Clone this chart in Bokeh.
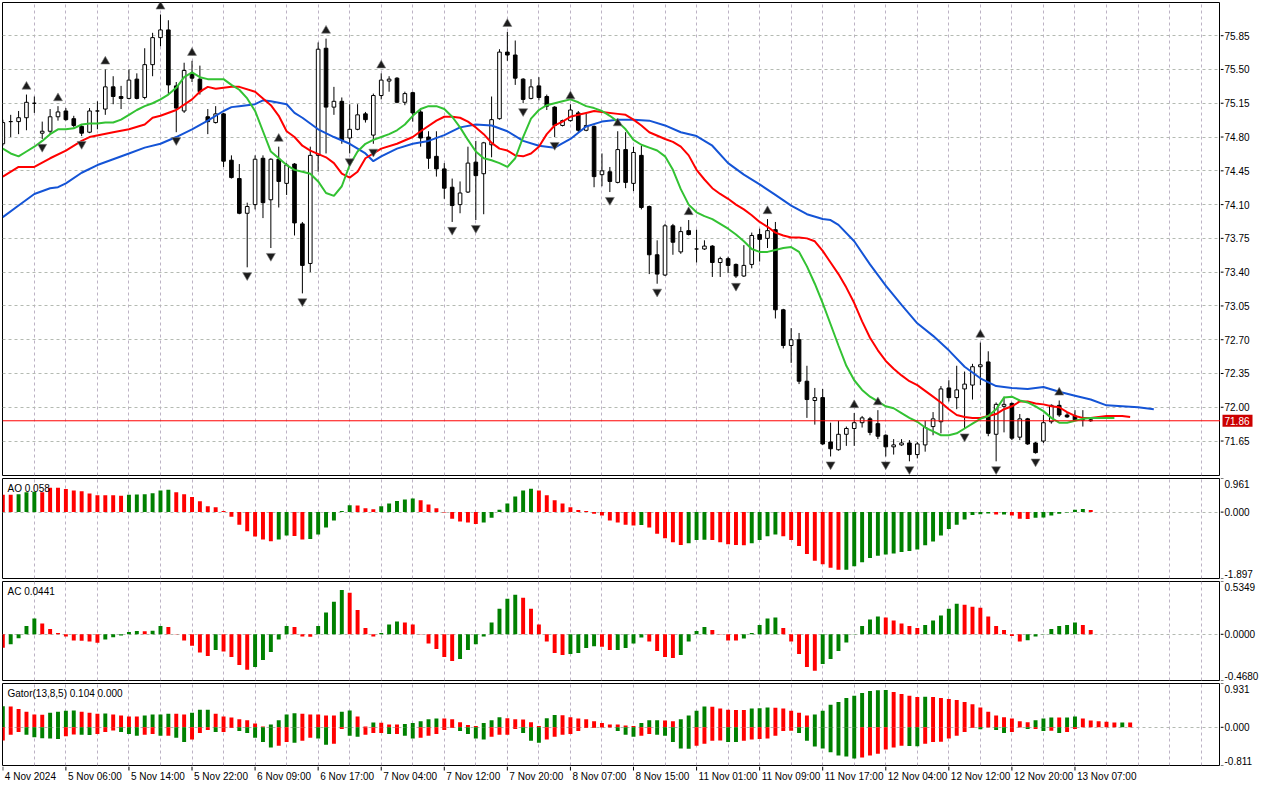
from bokeh.plotting import figure
from bokeh.models import Range1d, FixedTicker, Label, Span, ColumnDataSource
from bokeh.layouts import column, row
from bokeh.embed import file_html
from bokeh.resources import INLINE
from bokeh.core.properties import value

# ---------------- data ----------------
OPEN = [74.73,74.96,74.96,75.00,75.15,74.84,74.86,75.01,75.07,74.99,
74.91,74.85,75.07,75.09,75.32,75.22,75.20,75.40,75.21,75.55,
75.83,75.91,75.33,75.07,75.46,75.40,75.01,74.95,75.04,74.56,
74.37,74.01,74.10,74.58,74.15,74.57,74.32,74.52,73.90,73.49,
74.61,75.72,75.11,75.17,74.79,74.88,75.04,74.82,75.23,75.38,
75.41,75.16,75.26,75.06,74.80,74.60,74.47,74.28,74.10,74.23,
74.54,74.42,74.72,74.99,75.68,75.65,75.40,75.20,75.33,75.22,
75.11,74.92,74.97,75.05,74.87,74.91,74.41,74.44,74.33,74.67,
74.32,74.61,74.08,73.58,73.37,73.88,73.61,73.83,73.64,73.64,
73.67,73.50,73.54,73.48,73.36,73.48,73.79,73.75,73.84,73.01,
72.64,72.70,72.27,72.07,72.10,71.64,71.56,71.72,71.78,71.84,
71.88,71.83,71.71,71.59,71.61,71.63,71.51,71.61,71.80,71.85,
72.20,72.10,72.19,72.23,72.42,72.47,71.72,72.01,72.04,71.69,
71.88,71.63,71.65,71.85,72.02,71.92,71.91,71.87,71.87]
HIGH = [74.98,75.03,75.07,75.24,75.22,74.96,75.09,75.12,75.10,75.02,
74.93,75.10,75.17,75.50,75.43,75.33,75.50,75.46,75.72,75.88,
76.07,76.01,75.37,75.57,75.59,75.54,75.09,75.12,75.05,74.61,
74.52,74.12,74.61,74.61,74.58,74.70,74.53,74.53,73.92,74.70,
75.78,75.82,75.32,75.21,75.14,75.14,75.06,75.25,75.46,75.43,
75.42,75.27,75.27,75.08,74.86,74.86,74.53,74.37,74.34,74.70,
74.76,74.75,75.22,75.71,75.89,75.80,75.41,75.40,75.42,75.24,
75.12,74.98,75.14,75.07,75.04,74.92,74.63,74.49,74.86,74.85,
74.70,74.71,74.09,73.73,73.90,73.90,73.87,73.94,73.84,73.73,
73.68,73.56,73.56,73.49,73.68,73.81,73.85,73.95,73.92,73.02,
72.82,72.77,72.43,72.20,72.19,71.84,71.86,71.80,71.94,71.91,
71.90,71.97,71.72,71.67,71.67,71.66,71.64,71.86,71.95,72.22,
72.28,72.43,72.37,72.45,72.67,72.58,72.05,72.11,72.05,71.93,
71.89,71.64,71.92,72.03,72.07,71.95,71.97,71.97,71.88]
LOW = [74.71,74.80,74.83,74.87,75.05,74.78,74.83,74.97,74.97,74.90,
74.81,74.84,74.88,75.03,75.14,75.09,75.19,75.19,75.19,75.43,
75.74,75.24,74.85,75.05,75.37,75.24,74.83,74.94,74.49,74.37,
74.00,73.45,74.05,73.96,73.65,74.07,74.20,73.78,73.18,73.40,
74.44,74.63,75.03,74.73,74.63,74.87,74.95,74.73,75.19,75.27,
75.15,75.13,74.96,74.70,74.47,74.39,74.16,73.92,74.01,74.22,
73.94,74.00,74.59,74.98,75.59,75.34,75.15,75.19,75.18,75.08,
74.80,74.91,74.96,74.85,74.86,74.28,74.29,74.23,74.32,74.27,
74.24,74.05,73.38,73.28,73.36,73.58,73.59,73.78,73.50,73.63,
73.35,73.35,73.39,73.34,73.35,73.44,73.51,73.65,72.92,72.61,
72.46,72.24,71.89,71.82,71.61,71.49,71.55,71.60,71.60,71.79,
71.71,71.67,71.49,71.51,71.60,71.44,71.47,71.54,71.71,71.73,
72.06,71.98,71.78,72.08,72.23,71.70,71.44,71.74,71.66,71.66,
71.61,71.52,71.63,71.83,71.90,71.89,71.86,71.80,71.85]
CLOSE = [74.95,74.96,75.00,75.16,75.15,74.86,75.01,75.06,74.98,74.92,
74.84,75.07,75.07,75.32,75.22,75.20,75.39,75.20,75.55,75.83,
75.91,75.34,75.10,75.49,75.41,75.27,74.96,75.04,74.55,74.38,
74.01,74.08,74.57,74.12,74.57,74.34,74.51,73.91,73.47,74.61,
75.71,75.11,75.17,74.77,74.88,75.03,74.98,75.23,75.39,75.40,
75.16,75.25,75.05,74.79,74.58,74.47,74.27,74.09,74.22,74.53,
74.40,74.74,74.98,75.68,75.65,75.41,75.19,75.32,75.21,75.12,
74.92,74.97,75.08,74.87,74.92,74.39,74.45,74.34,74.67,74.33,
74.64,74.07,73.58,73.38,73.88,73.71,73.82,73.79,73.64,73.67,
73.50,73.54,73.47,73.36,73.47,73.78,73.74,73.83,73.01,72.64,
72.70,72.27,72.08,72.10,71.62,71.57,71.72,71.78,71.84,71.89,
71.74,71.70,71.59,71.61,71.63,71.51,71.62,71.79,71.88,72.19,
72.10,72.18,72.24,72.42,72.44,71.73,72.03,72.03,71.68,71.88,
71.62,71.53,71.84,72.02,71.92,71.90,71.87,71.87,71.86]

FRACTAL_UP = [3,7,13,20,24,35,41,48,64,72,78,87,97,108,111,124,134]
FRACTAL_DOWN = [5,10,22,31,34,38,44,47,57,60,66,70,77,83,93,105,112,115,122,126,131]

JAW_K = [0,2,4,6,7,8,10,12,14,16,18,20,22,24,26,28,29,30,32,33,34,36,37,38,40,42,44,46,47,48,
50,52,54,56,58,60,62,64,66,68,70,72,74,76,78,80,82,84,86,88,90,92,94,96,98,100,
102,104,105,106,108,110,112,114,116,118,120,122,124,126,128,130,132,134,136,138,140,142,144,146]
JAW_V = [73.97,74.09,74.21,74.27,74.28,74.32,74.43,74.51,74.57,74.63,74.69,74.73,74.80,74.88,74.97,75.07,
75.11,75.12,75.14,75.18,75.17,75.14,75.05,75.00,74.88,74.80,74.73,74.63,74.55,74.60,
74.68,74.73,74.76,74.82,74.90,74.93,74.92,74.86,74.76,74.71,74.69,74.78,74.91,74.96,74.98,74.98,
74.97,74.92,74.85,74.81,74.71,74.53,74.41,74.31,74.20,74.09,
74.00,73.95,73.94,73.89,73.72,73.48,73.26,73.06,72.87,72.74,72.59,72.42,72.30,72.22,72.20,72.19,
72.21,72.16,72.12,72.08,72.02,72.01,72.00,71.98]

TEETH_K = [0,2,4,6,8,10,11,14,16,18,19,20,22,24,25,26,27,29,30,32,33,34,35,36,37,38,39,41,42,43,
44,45,46,48,50,52,53,55,56,57,58,59,60,61,62,63,64,65,66,67,68,69,70,71,72,73,74,75,76,78,
79,80,81,82,84,85,86,
87,88,89,90,91,92,93,94,95,96,97,98,99,100,101,102,103,104,105,106,107,108,109,110,111,112,
113,114,115,116,117,118,119,120,121,122,123,124,125,126,127,128,129,130,131,132,133,134,135,136,
137,138,139,140,141,142,143]
TEETH_V = [74.39,74.49,74.49,74.58,74.66,74.76,74.80,74.85,74.88,74.93,75.00,75.02,75.08,75.19,75.27,
75.32,75.30,75.32,75.32,75.27,75.20,75.13,75.02,74.86,74.80,74.71,74.66,74.59,74.53,74.42,
74.38,74.44,74.58,74.68,74.73,74.80,74.86,74.97,75.01,75.01,75.00,74.96,74.90,74.83,74.74,
74.68,74.66,74.61,74.60,74.63,74.70,74.83,74.92,74.96,75.01,75.03,75.05,75.07,75.06,75.04,
75.03,74.98,74.92,74.85,74.78,74.75,74.70,
74.61,74.46,74.36,74.27,74.21,74.16,74.10,74.05,73.99,73.92,73.87,73.81,73.78,73.76,73.76,
73.75,73.72,73.62,73.50,73.38,73.24,73.08,72.89,72.72,72.59,72.48,72.40,72.33,72.27,72.23,
72.17,72.11,72.05,71.98,71.92,71.90,71.89,71.89,71.91,71.93,71.98,72.01,72.06,72.06,72.04,
72.03,72.01,72.00,71.95,71.91,71.89,71.89,71.90,71.91,71.91,71.91,71.90]

LIPS_V = [74.68,74.63,74.60,74.65,74.70,74.76,74.83,74.88,74.88,74.89,
74.93,74.94,74.94,74.95,74.95,74.98,75.03,75.08,75.12,75.15,
75.19,75.24,75.31,75.42,75.47,75.42,75.40,75.40,75.40,75.34,
75.29,75.20,75.07,74.86,74.65,74.58,74.51,74.46,74.44,74.42,
74.34,74.22,74.19,74.29,74.51,74.65,74.73,74.77,74.80,74.83,
74.87,74.93,75.02,75.09,75.12,75.12,75.09,75.01,74.90,74.77,
74.65,74.58,74.56,74.53,74.49,74.58,74.80,74.99,75.08,75.13,
75.15,75.17,75.19,75.16,75.12,75.10,75.07,75.02,74.96,74.88,
74.77,74.72,74.69,74.66,74.60,74.46,74.26,74.10,74.02,73.98,
73.95,73.90,73.85,73.79,73.72,73.64,73.61,73.61,73.63,73.65,
73.66,73.61,73.46,73.28,73.08,72.86,72.64,72.43,72.28,72.18,
72.11,72.06,72.01,71.99,71.94,71.89,71.85,71.79,71.75,71.71,
71.71,71.73,71.78,71.83,71.88,71.91,71.98,72.10,72.11,72.07,
72.05,72.01,71.96,71.89,71.84,71.84,71.86,71.88,71.89,71.89,
71.89,71.89]

AO = [0.50,0.50,0.51,0.57,0.58,0.57,0.70,0.70,0.66,0.62,
0.60,0.53,0.48,0.48,0.48,0.47,0.50,0.505,0.51,0.54,
0.62,0.64,0.57,0.51,0.43,0.31,0.17,0.14,0.03,-0.13,
-0.36,-0.55,-0.70,-0.78,-0.83,-0.78,-0.67,-0.68,-0.78,-0.77,
-0.64,-0.44,-0.24,0.03,0.20,0.19,0.11,0.08,0.17,0.25,
0.32,0.36,0.39,0.34,0.22,0.11,-0.01,-0.19,-0.27,-0.30,
-0.34,-0.30,-0.16,0.065,0.25,0.45,0.62,0.67,0.62,0.48,
0.34,0.25,0.14,0.06,0.03,-0.05,-0.10,-0.24,-0.30,-0.36,
-0.38,-0.37,-0.44,-0.62,-0.75,-0.86,-0.94,-0.89,-0.80,-0.79,
-0.80,-0.86,-0.92,-0.94,-0.95,-0.89,-0.80,-0.69,-0.64,-0.69,
-0.80,-0.97,-1.20,-1.39,-1.49,-1.59,-1.65,-1.645,-1.55,-1.43,
-1.31,-1.25,-1.21,-1.18,-1.14,-1.11,-1.07,-0.95,-0.84,-0.67,
-0.48,-0.36,-0.21,-0.08,-0.06,-0.04,-0.07,-0.065,-0.10,-0.19,
-0.195,-0.16,-0.155,-0.10,-0.05,-0.01,0.065,0.09,0.058]
AO_COLOR = ("rrgggrrrrr" "rrrrrrgggg" "ggrrrrrrrr" "rrrrrggrrg" "gggggrrrgg"
            "gggrrrrrrr" "rgggggggrr" "rrrrrrrrrr" "rgrrrrrggg" "rrrrrggggr"
            "rrrrrrrggg" "gggggggggg" "ggggggrgrr" "rgggggggr")

AC = [-0.136,-0.10,-0.04,0.083,0.16,0.11,0.053,0.013,-0.023,-0.063,
-0.065,-0.073,-0.086,-0.053,-0.03,-0.013,0.023,0.033,0.032,0.035,
0.083,0.073,-0.002,-0.063,-0.116,-0.185,-0.22,-0.16,-0.175,-0.23,
-0.31,-0.36,-0.33,-0.26,-0.18,-0.053,0.083,0.073,-0.023,-0.024,
0.083,0.22,0.33,0.45,0.42,0.245,0.063,-0.023,0.013,0.10,
0.13,0.12,0.10,-0.003,-0.093,-0.15,-0.23,-0.27,-0.25,-0.16,
-0.10,-0.023,0.12,0.26,0.36,0.40,0.37,0.26,0.10,-0.073,
-0.19,-0.21,-0.20,-0.19,-0.14,-0.12,-0.125,-0.16,-0.158,-0.14,
-0.093,-0.033,-0.073,-0.17,-0.23,-0.24,-0.21,-0.073,0.033,0.073,
0.043,-0.001,-0.063,-0.064,-0.043,0.013,0.093,0.16,0.17,0.063,
-0.073,-0.20,-0.33,-0.37,-0.30,-0.25,-0.17,-0.083,0.003,0.083,
0.15,0.18,0.17,0.14,0.11,0.083,0.063,0.093,0.14,0.19,
0.26,0.31,0.30,0.28,0.27,0.18,0.083,0.043,-0.017,-0.073,
-0.06,-0.023,-0.003,0.053,0.083,0.093,0.12,0.093,0.044]
AC_COLOR = ("rggggrrrrr" "rrrgggggrg" "grrrrrrgrr" "rrgggggrrr" "ggggrrrrgg"
            "grrrrrrrgg" "ggggggrrrr" "rrggggrrgg" "ggrrrrgggg" "rrrrgggggr"
            "rrrrgggggg" "ggrrrrrggg" "ggrrrrrrrr" "gggggggrr")

GATOR_UP = [0.45,0.44,0.39,0.33,0.27,0.265,0.31,0.33,0.35,0.355,
0.33,0.31,0.29,0.295,0.27,0.25,0.23,0.228,0.25,0.27,
0.275,0.29,0.29,0.27,0.31,0.375,0.376,0.29,0.23,0.21,
0.17,0.15,0.08,0.02,0.06,0.15,0.27,0.30,0.29,0.27,
0.27,0.25,0.25,0.33,0.355,0.23,0.02,0.10,0.098,0.06,
0.058,0.07,0.09,0.13,0.17,0.19,0.185,0.17,0.11,0.05,
0.03,0.09,0.15,0.215,0.195,0.17,0.168,0.11,0.03,0.195,
0.26,0.255,0.215,0.19,0.17,0.13,0.09,0.06,0.058,0.04,
0.03,0.09,0.15,0.152,0.145,0.13,0.17,0.25,0.35,0.44,
0.435,0.40,0.375,0.37,0.368,0.40,0.405,0.42,0.415,0.40,
0.35,0.31,0.25,0.27,0.35,0.48,0.54,0.625,0.67,0.73,
0.77,0.79,0.795,0.75,0.71,0.67,0.645,0.65,0.645,0.625,
0.60,0.58,0.54,0.49,0.42,0.33,0.25,0.215,0.19,0.13,
0.11,0.15,0.19,0.21,0.208,0.21,0.23,0.19,0.145,0.13,
0.12,0.10,0.104,0.10]
GATOR_DOWN = [-0.28,-0.16,-0.10,-0.16,-0.21,-0.23,-0.235,-0.25,-0.19,-0.15,
-0.16,-0.165,-0.14,-0.10,-0.07,-0.10,-0.14,-0.18,-0.16,-0.14,
-0.18,-0.18,-0.22,-0.31,-0.26,-0.12,-0.055,-0.10,-0.098,-0.015,
-0.076,-0.12,-0.22,-0.31,-0.43,-0.39,-0.31,-0.33,-0.285,-0.22,
-0.24,-0.37,-0.35,-0.035,-0.18,-0.20,-0.16,-0.12,-0.12,-0.14,
-0.14,-0.18,-0.24,-0.22,-0.18,-0.14,-0.055,-0.015,-0.076,-0.14,
-0.24,-0.26,-0.20,-0.16,-0.158,-0.035,-0.12,-0.285,-0.33,-0.26,
-0.20,-0.16,-0.14,-0.076,-0.015,-0.014,-0.005,-0.004,-0.076,-0.16,
-0.20,-0.18,-0.14,-0.16,-0.18,-0.31,-0.45,-0.455,-0.39,-0.35,
-0.285,-0.28,-0.31,-0.312,-0.285,-0.26,-0.25,-0.24,-0.18,-0.076,
-0.075,-0.12,-0.285,-0.41,-0.45,-0.53,-0.60,-0.62,-0.66,-0.64,
-0.60,-0.56,-0.47,-0.43,-0.39,-0.395,-0.40,-0.35,-0.31,-0.305,
-0.24,-0.18,-0.10,-0.014,-0.04,-0.005,-0.055,-0.12,-0.10,-0.004,
-0.035,-0.034,-0.076,-0.075,-0.12,-0.10,-0.035]

PRICE_TICKS = [75.85,75.50,75.15,74.80,74.45,74.10,73.75,73.40,73.05,72.70,72.35,72.00,71.65]
PRICE_RANGE = (71.293, 76.194)
AO_RANGE = (-1.897, 0.961)
AC_RANGE = (-0.4680, 0.5349)
GATOR_RANGE = (-0.811, 0.931)
AO_LABELS = ("0.961", "0.000", "-1.897")
AC_LABELS = ("0.5349", "0.0000", "-0.4680")
GATOR_LABELS = ("0.931", "0.000", "-0.811")

X_LABEL_BARS = [0,8,16,24,32,40,48,56,64,72,80,88,96,104,112,120,128,136]
X_LABELS = ["4 Nov 2024","5 Nov 06:00","5 Nov 14:00","5 Nov 22:00","6 Nov 09:00","6 Nov 17:00",
            "7 Nov 04:00","7 Nov 12:00","7 Nov 20:00","8 Nov 07:00","8 Nov 15:00","11 Nov 01:00",
            "11 Nov 09:00","11 Nov 17:00","12 Nov 04:00","12 Nov 12:00","12 Nov 20:00","13 Nov 07:00"]

# ---------------- styling ----------------
W_TOTAL = 1264
AXW = 44
W = W_TOTAL - AXW
BL = 2
FONT = "Liberation Sans"
FS = "10px"
GREEN, RED = "#008000", "#ff0000"
GRID_V, GRID_H = "#bcb2c4", "#b4bab2"
JAW_C, TEETH_C, LIPS_C = "#1454d6", "#ff0000", "#33c233"
TOP_B, BOT_B = 2, 1

x_range = Range1d(-0.04, 154.46)
VGRID = list(range(4, 153, 4))


def plain(fig):
    fig.xgrid.visible = False
    fig.ygrid.visible = False
    fig.outline_line_color = None
    fig.background_fill_color = "white"
    fig.border_fill_color = "white"


def panel(height, yr, hgrid):
    p = figure(width=W, height=height, x_range=x_range, y_range=Range1d(*yr),
               output_backend="svg", toolbar_location=None,
               x_axis_location=None, y_axis_location=None,
               min_border_left=BL, min_border_right=0,
               min_border_top=TOP_B, min_border_bottom=BOT_B)
    p.outline_line_color = "black"
    p.outline_line_alpha = 1.0
    p.background_fill_color = "white"
    p.border_fill_color = "white"
    p.xgrid.ticker = FixedTicker(ticks=VGRID)
    p.xgrid.grid_line_color = GRID_V
    p.xgrid.grid_line_dash = "3 3"
    p.ygrid.ticker = FixedTicker(ticks=hgrid)
    p.ygrid.grid_line_color = GRID_H
    p.ygrid.grid_line_dash = "3 3"
    return p


def price_scale(p, ticks, labels, baselines):
    """Right-hand scale drawn in its own narrow figure sharing the panel's y range."""
    a = figure(width=AXW, height=p.height, x_range=Range1d(0, AXW), y_range=p.y_range,
               output_backend="svg", toolbar_location=None,
               x_axis_location=None, y_axis_location=None,
               min_border_left=0, min_border_right=0,
               min_border_top=TOP_B, min_border_bottom=BOT_B)
    plain(a)
    a.segment(x0=[0] * len(ticks), y0=ticks, x1=[3] * len(ticks), y1=ticks,
              line_color="black", line_width=1)
    for t, lab, bl in zip(ticks, labels, baselines):
        a.text(x=[4], y=[t], text=[lab], text_baseline=bl, text_align="left",
               text_font=value(FONT), text_font_size=value(FS), text_color="black",
               y_offset=(1 if bl == "top" else (-1 if bl == "bottom" else 0)))
    return a


def title(p, yr, text):
    p.add_layout(Label(x=x_range.start, y=yr[1], x_offset=5, y_offset=-4, text=text,
                       text_baseline="top", text_font=FONT, text_font_size=FS, text_color="black"))


bars = list(range(len(OPEN)))

# ---------------- main price panel ----------------
MAIN_H = 476
main = panel(MAIN_H, PRICE_RANGE, PRICE_TICKS)

src = ColumnDataSource(dict(
    x=bars, o=OPEN, h=HIGH, l=LOW, c=CLOSE,
    top=[max(o, c) for o, c in zip(OPEN, CLOSE)],
    bottom=[min(o, c) for o, c in zip(OPEN, CLOSE)],
    fill=["white" if c > o else "black" for o, c in zip(OPEN, CLOSE)],
))
main.add_layout(Span(location=CLOSE[-1], dimension="width", line_color="#ff0000", line_width=1))
main.segment(x0="x", y0="l", x1="x", y1="h", source=src, line_color="black", line_width=1)
main.vbar(x="x", top="top", bottom="bottom", width=0.46, source=src,
          fill_color="fill", line_color="black", line_width=1)

main.line(JAW_K, JAW_V, line_color=JAW_C, line_width=2)
main.line(TEETH_K, TEETH_V, line_color=TEETH_C, line_width=2)
main.line(list(range(len(LIPS_V))), LIPS_V, line_color=LIPS_C, line_width=2)

px_per_unit = (MAIN_H - TOP_B - BOT_B) / (PRICE_RANGE[1] - PRICE_RANGE[0])
off = 8 / px_per_unit
main.scatter(FRACTAL_UP, [HIGH[k] + off for k in FRACTAL_UP], marker="triangle",
             size=9, fill_color="#1c1c1c", line_color="#808080", line_width=0.6)
main.scatter(FRACTAL_DOWN, [LOW[k] - off for k in FRACTAL_DOWN], marker="inverted_triangle",
             size=9, fill_color="#1c1c1c", line_color="#808080", line_width=0.6)

main_scale = price_scale(main, PRICE_TICKS, ["%.2f" % t for t in PRICE_TICKS],
                         ["middle"] * len(PRICE_TICKS))
# current-price marker box on the price scale
main_scale.rect(x=[17], y=[CLOSE[-1]], width=30, height=12, height_units="screen",
                fill_color="#cc0000", line_color=None)
main_scale.text(x=[4], y=[CLOSE[-1]], text=["%.2f" % CLOSE[-1]], text_baseline="middle",
                text_align="left", text_font=value(FONT), text_font_size=value(FS),
                text_color="white")


def indicator(height, yr, vals, cols, label, scale_labels):
    p = panel(height, yr, [0])
    p.vbar(x=list(range(len(vals))), top=vals, bottom=0, width=0.5, line_color=None,
           fill_color=[GREEN if ch == "g" else RED for ch in cols])
    title(p, yr, label)
    s = price_scale(p, [yr[1], 0, yr[0]], list(scale_labels), ["top", "middle", "bottom"])
    return p, s


ao, ao_s = indicator(103, AO_RANGE, AO, AO_COLOR, "AO 0.058", AO_LABELS)
ac, ac_s = indicator(102, AC_RANGE, AC, AC_COLOR, "AC 0.0441", AC_LABELS)

# ---------------- Gator ----------------
G_H = 85
gt = panel(G_H, GATOR_RANGE, [0])
up_col = [GREEN if i == 0 or GATOR_UP[i] > GATOR_UP[i - 1] else RED for i in range(len(GATOR_UP))]
dn_col = [RED if i == 0 else (GREEN if abs(GATOR_DOWN[i]) > abs(GATOR_DOWN[i - 1]) else RED)
          for i in range(len(GATOR_DOWN))]
gt.vbar(x=list(range(len(GATOR_UP))), top=GATOR_UP, bottom=0, width=0.5, line_color=None, fill_color=up_col)
gt.vbar(x=list(range(len(GATOR_DOWN))), top=0, bottom=GATOR_DOWN, width=0.5, line_color=None, fill_color=dn_col)
title(gt, GATOR_RANGE, "Gator(13,8,5) 0.104 0.000")
gt_s = price_scale(gt, [GATOR_RANGE[1], 0, GATOR_RANGE[0]], list(GATOR_LABELS), ["top", "middle", "bottom"])

# ---------------- time labels ----------------
LAB_H = 18
lab = figure(width=W, height=LAB_H, x_range=x_range, y_range=Range1d(0, LAB_H),
             output_backend="svg", toolbar_location=None,
             x_axis_location=None, y_axis_location=None,
             min_border_left=BL, min_border_right=0, min_border_top=0, min_border_bottom=0)
plain(lab)
lab.segment(x0=X_LABEL_BARS, y0=[LAB_H] * len(X_LABEL_BARS), x1=X_LABEL_BARS,
            y1=[LAB_H - 4] * len(X_LABEL_BARS), line_color="black", line_width=1)
lab.text(x=X_LABEL_BARS, y=[LAB_H - 4] * len(X_LABEL_BARS), text=X_LABELS, x_offset=2,
         text_align="left", text_baseline="top", text_font=value(FONT),
         text_font_size=value(FS), text_color="black")

layout = column(row(main, main_scale, spacing=0),
                row(ao, ao_s, spacing=0),
                row(ac, ac_s, spacing=0),
                row(gt, gt_s, spacing=0),
                lab, spacing=0)
open("out.html", "w").write(file_html(layout, INLINE, "chart"))
